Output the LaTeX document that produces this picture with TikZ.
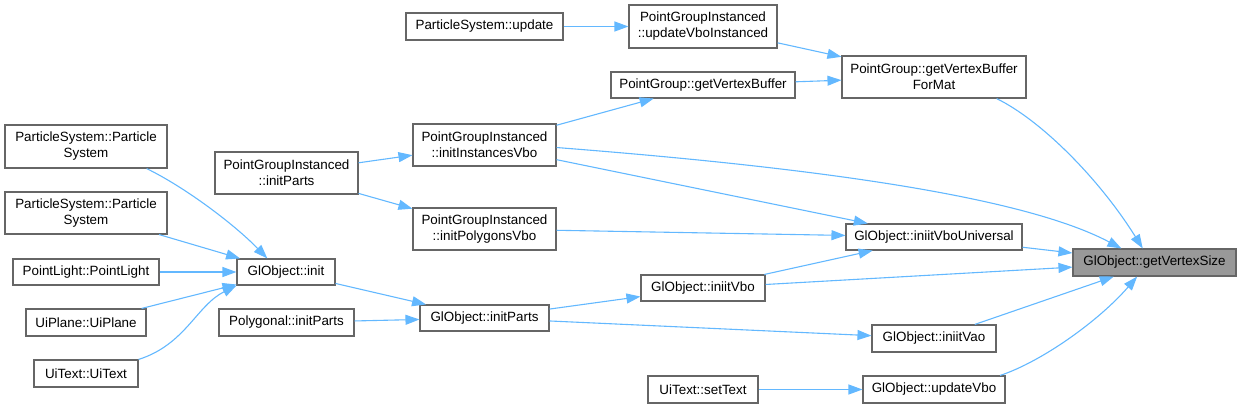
\documentclass[tikz,border=0pt]{standalone}
\usepackage{fontspec}
\setmainfont{Liberation Sans}
\usepackage{xcolor}
\usepackage{tikz}
\usetikzlibrary{arrows.meta,positioning,calc}

\definecolor{callblue}{HTML}{63B8FF}
\definecolor{boxgrey}{HTML}{666666}
\definecolor{focusgrey}{HTML}{999999}

\begin{document}
\begin{tikzpicture}[
    x=1pt, y=-1pt,
    box/.style={rectangle, draw=boxgrey, line width=1.1pt, fill=white, align=center, inner sep=0pt, font=\fontsize{13.4}{16}\selectfont},
    focus/.style={box, fill=focusgrey},
    call/.style={draw=callblue, line width=1.1pt, -{Triangle[length=14pt, width=10pt]}}
]
    \useasboundingbox (0,0) rectangle (1242,408);

    % Column 1: callers of GlObject::init
    \node[box, minimum width=162pt, minimum height=43pt] (ps-particle1) at (86,146.5) {ParticleSystem::Particle\\System};
    \node[box, minimum width=162pt, minimum height=42pt] (ps-particle2) at (86,213) {ParticleSystem::Particle\\System};
    \node[box, minimum width=146pt, minimum height=26pt] (pl-pointlight) at (86,272) {PointLight::PointLight};
    \node[box, minimum width=120pt, minimum height=27pt] (up-uiplane) at (86,322.5) {UiPlane::UiPlane};
    \node[box, minimum width=104pt, minimum height=27pt] (ut-uitext) at (86,373.5) {UiText::UiText};

    % Column 2
    \node[box, minimum width=143pt, minimum height=42pt] (pgi-initparts) at (286.5,173) {PointGroupInstanced\\::initParts};
    \node[box, minimum width=98pt, minimum height=26pt] (gl-init) at (286,272) {GlObject::init};
    \node[box, minimum width=135pt, minimum height=27pt] (poly-initparts) at (286.5,322.5) {Polygonal::initParts};

    % Column 3
    \node[box, minimum width=157pt, minimum height=27pt] (ps-update) at (484.5,26.5) {ParticleSystem::update};
    \node[box, minimum width=143pt, minimum height=42pt] (pgi-instvbo) at (484.5,145) {PointGroupInstanced\\::initInstancesVbo};
    \node[box, minimum width=143pt, minimum height=42pt] (pgi-polyvbo) at (484.5,229) {PointGroupInstanced\\::initPolygonsVbo};
    \node[box, minimum width=129pt, minimum height=26pt] (gl-initparts) at (484.5,318) {GlObject::initParts};

    % Column 4
    \node[box, minimum width=148pt, minimum height=43pt] (pgi-updatevbo) at (703,26.5) {PointGroupInstanced\\::updateVboInstanced};
    \node[box, minimum width=184pt, minimum height=26pt] (pg-getvb) at (703,85) {PointGroup::getVertexBuffer};
    \node[box, minimum width=124pt, minimum height=26pt] (gl-iniitvbo) at (703,288) {GlObject::iniitVbo};
    \node[box, minimum width=110pt, minimum height=27pt] (ut-settext) at (703,389.5) {UiText::setText};

    % Column 5
    \node[box, minimum width=184pt, minimum height=42pt] (pg-formats) at (934,77) {PointGroup::getVertexBuffer\\ForMat};
    \node[box, minimum width=176pt, minimum height=26pt] (gl-universal) at (934,237) {GlObject::iniitVboUniversal};
    \node[box, minimum width=124pt, minimum height=27pt] (gl-iniitvao) at (934,338.5) {GlObject::iniitVao};
    \node[box, minimum width=142pt, minimum height=27pt] (gl-updatevbo) at (934,389.5) {GlObject::updateVbo};

    % Focus
    \node[focus, minimum width=163pt, minimum height=27pt] (gl-vertexsize) at (1154.5,262.5) {GlObject::getVertexSize};

    % Calls into GlObject::init
    \draw[call] (ps-particle1.-20) .. controls +(39,19) and +(-33,-34) .. (gl-init.144);
    \draw[call] (ps-particle2) -- (gl-init);
    \draw[call] (pl-pointlight) -- (gl-init);
    \draw[call] (up-uiplane) -- (gl-init);
    \draw[call] (ut-uitext.north east) .. controls +(47,-15) and +(-40,20) .. (gl-init.south west);

    % Calls into initParts and the Vbo setup
    \draw[call] (gl-init) -- (gl-initparts);
    \draw[call] (poly-initparts) -- (gl-initparts);
    \draw[call] (pgi-initparts) -- (pgi-instvbo);
    \draw[call] (pgi-initparts) -- (pgi-polyvbo);
    \draw[call] (gl-initparts) -- (gl-iniitvbo);
    \draw[call] (gl-initparts) -- (gl-iniitvao);
    \draw[call] (ut-settext) -- (gl-updatevbo);

    % Vertex buffer path
    \draw[call] (ps-update) -- (pgi-updatevbo);
    \draw[call] (pgi-updatevbo) -- (pg-formats);
    \draw[call] (pg-getvb) -- (pg-formats);
    \draw[call] (pgi-instvbo) -- (pg-getvb);
    \draw[call] (pgi-instvbo) -- (gl-universal);
    \draw[call] (pgi-polyvbo) -- (gl-universal);
    \draw[call] (gl-iniitvbo) -- (gl-universal);

    % Calls into GlObject::getVertexSize
    \draw[call] (pg-formats.-19) .. controls +(45,22) and +(-43,-69) .. (gl-vertexsize.130);
    \draw[call] (pgi-instvbo.-2) .. controls +(244,19) and +(-102,-54) .. (gl-vertexsize.157);
    \draw[call] (gl-universal) -- (gl-vertexsize);
    \draw[call] (gl-iniitvbo) -- (gl-vertexsize);
    \draw[call] (gl-iniitvao) -- (gl-vertexsize);
    \draw[call] (gl-updatevbo.12) .. controls +(42,-14) and +(-38,44) .. (gl-vertexsize.-141);
\end{tikzpicture}
\end{document}
